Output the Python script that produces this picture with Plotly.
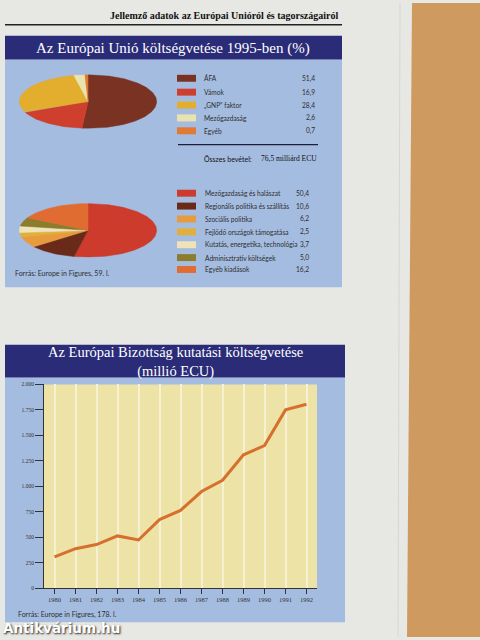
import numpy as np
import plotly.graph_objects as go

W, H = 480, 640

revenue_labels = ["ÁFA", "Vámok", "„GNP” faktor", "Mezőgazdaság", "Egyéb"]
revenue_values = [51.4, 16.9, 28.4, 2.6, 0.7]
revenue_colors = ["#7a3322", "#cf3f2e", "#e3ad2e", "#ebe3ae", "#e07a34"]

spending_labels = [
    "Mezőgazdaság és halászat",
    "Regionális politika és szállítás",
    "Szociális politika",
    "Fejlődő országok támogatása",
    "Kutatás, energetika, technológia",
    "Adminisztratív költségek",
    "Egyéb kiadások",
]
spending_values = [50.4, 10.6, 6.2, 2.5, 3.7, 5.0, 16.2]
spending_colors = ["#cc3b2c", "#6a2a1a", "#e89a3e", "#e2b03a", "#eee4b8", "#8c7c2c", "#e06c32"]

years = [1980, 1981, 1982, 1983, 1984, 1985, 1986, 1987, 1988, 1989, 1990, 1991, 1992]
research_budget = [310, 390, 430, 515, 475, 675, 765, 950, 1060, 1310, 1400, 1750, 1805]
y_ticks = [0, 250, 500, 750, 1000, 1250, 1500, 1750, 2000]
y_tick_labels = ["0", "250", "500", "750", "1.000", "1.250", "1.500", "1.750", "2.000"]

PANEL = "#a4bce0"
NAVY = "#2a2c78"
PAGE = "#e7e7e4"
TEXT = "#2e2e2e"
SMALL = dict(family="Lato", size=6.6, color=TEXT)


def px(x):
    return x / W


def py(y):
    return 1 - y / H


def hu(v):
    return f"{v:.1f}".replace(".", ",")


def pie_traces(values, colors, xa, ya):
    """Wedges on a unit circle; the axis scaling squashes them into an ellipse."""
    traces = []
    total = sum(values)
    start = 0.0
    for v, c in zip(values, colors):
        a0 = np.pi / 2 - 2 * np.pi * start / total
        a1 = np.pi / 2 - 2 * np.pi * (start + v) / total
        t = np.linspace(a0, a1, max(3, int(abs(a1 - a0) * 40)))
        xs = np.concatenate([[0], np.cos(t), [0]])
        ys = np.concatenate([[0], np.sin(t), [0]])
        traces.append(go.Scatter(
            x=xs, y=ys, mode="lines", fill="toself", fillcolor=c,
            line=dict(color=c, width=0.5), xaxis=xa, yaxis=ya,
            hoverinfo="skip", showlegend=False,
        ))
        start += v
    return traces


fig = go.Figure()
for tr in pie_traces(revenue_values, revenue_colors, "x", "y"):
    fig.add_trace(tr)
for tr in pie_traces(spending_values, spending_colors, "x2", "y2"):
    fig.add_trace(tr)

fig.add_trace(go.Scatter(
    x=years, y=research_budget, mode="lines",
    line=dict(color="#d6702e", width=3), xaxis="x3", yaxis="y3",
    hoverinfo="skip", showlegend=False,
))

hidden = dict(visible=False, range=[-1.02, 1.02], fixedrange=True)

shapes = [
    # wooden table on the right
    dict(type="path", xref="paper", yref="paper",
         path=f"M {px(412)} 1 L 1 1 L 1 0 L {px(407)} 0 Z",
         fillcolor="#cf9a60", line=dict(width=0), layer="below"),
    dict(type="line", xref="paper", yref="paper", x0=px(400), x1=px(398), y0=1, y1=0,
         line=dict(color="#d6d6d2", width=1), layer="below"),
    # header rule
    dict(type="line", xref="paper", yref="paper", x0=px(5), x1=px(342), y0=py(22), y1=py(22),
         line=dict(color="#222", width=1.5)),
    # panel 1
    dict(type="rect", xref="paper", yref="paper", x0=px(5), x1=px(342), y0=py(57), y1=py(287),
         fillcolor=PANEL, line=dict(width=0), layer="below"),
    dict(type="rect", xref="paper", yref="paper", x0=px(5), x1=px(342), y0=py(33), y1=py(57),
         fillcolor=NAVY, line=dict(width=0), layer="below"),
    # total separator
    dict(type="line", xref="paper", yref="paper", x0=px(178), x1=px(318), y0=py(143), y1=py(143),
         line=dict(color="#1e1e3a", width=1.2)),
    # panel 2
    dict(type="rect", xref="paper", yref="paper", x0=px(5), x1=px(345), y0=py(378), y1=py(625),
         fillcolor=PANEL, line=dict(width=0), layer="below"),
    dict(type="rect", xref="paper", yref="paper", x0=px(5), x1=px(345), y0=py(345), y1=py(378),
         fillcolor=NAVY, line=dict(width=0), layer="below"),
    # yellow plot area
    dict(type="rect", xref="x3 domain", yref="y3 domain", x0=0, x1=1, y0=0, y1=1,
         fillcolor="#eee3a6", line=dict(width=0), layer="below"),
]

annotations = [
    dict(text="<b>Jellemző adatok az Európai Unióról és tagországairól</b>", x=px(341), y=py(13),
         xanchor="right", font=dict(family="Liberation Serif", size=10, color="#111")),
    dict(text="Az Európai Unió költségvetése 1995-ben (%)", x=px(173), y=py(46),
         font=dict(family="Liberation Serif", size=15, color="white")),
    dict(text="Az Európai Bizottság kutatási költségvetése<br>(millió ECU)", x=px(175), y=py(362),
         font=dict(family="Liberation Serif", size=14.5, color="white")),
    dict(text="Összes bevétel:", x=px(202), y=py(157), xanchor="left",
         font=dict(family="Lato", size=7, color="#111")),
    dict(text="76,5 milliárd ECU", x=px(259), y=py(157), xanchor="left",
         font=dict(family="Liberation Serif", size=7.5, color="#111")),
    dict(text="Forrás: Europe in Figures, 59. l.", x=px(13), y=py(273), xanchor="left",
         font=dict(family="Lato", size=7, color=TEXT)),
    dict(text="Forrás: Europe in Figures, 178. l.", x=px(16), y=py(617), xanchor="left",
         font=dict(family="Lato", size=7, color=TEXT)),
    dict(text="<b>Antikvárium.hu</b>", x=px(1), y=py(631), xanchor="left",
         font=dict(family="DejaVu Sans", size=13.5, color="white", shadow="1px 1px 2px #222")),
]

rev_rows = [76, 90, 103, 116, 129]
for i, (lab, val, col) in enumerate(zip(revenue_labels, revenue_values, revenue_colors)):
    yc = rev_rows[i]
    shapes.append(dict(type="rect", xref="paper", yref="paper", x0=px(177), x1=px(196),
                       y0=py(yc - 3.5), y1=py(yc + 3.5), fillcolor=col, line=dict(width=0)))
    annotations.append(dict(text=lab, x=px(202), y=py(yc), xanchor="left", font=SMALL))
    annotations.append(dict(text=hu(val), x=px(317), y=py(yc), xanchor="right", font=SMALL))

sp_rows = [192, 205, 218, 231, 244, 257, 269]
for i, (lab, val, col) in enumerate(zip(spending_labels, spending_values, spending_colors)):
    yc = sp_rows[i]
    shapes.append(dict(type="rect", xref="paper", yref="paper", x0=px(177), x1=px(196),
                       y0=py(yc - 3.5), y1=py(yc + 3.5), fillcolor=col, line=dict(width=0)))
    annotations.append(dict(text=lab, x=px(203), y=py(yc), xanchor="left", font=SMALL))
    annotations.append(dict(text=hu(val), x=px(311), y=py(yc), xanchor="right", font=SMALL))

for a in annotations:
    a.update(xref="paper", yref="paper", showarrow=False)
    a.setdefault("yanchor", "middle")

fig.update_layout(
    width=W, height=H, autosize=False,
    margin=dict(l=0, r=0, t=0, b=0),
    paper_bgcolor=PAGE, plot_bgcolor="rgba(0,0,0,0)",
    showlegend=False,
    xaxis=dict(domain=[px(18), px(158)], anchor="y", **hidden),
    yaxis=dict(domain=[py(127), py(72)], anchor="x", **hidden),
    xaxis2=dict(domain=[px(18), px(158)], anchor="y2", **hidden),
    yaxis2=dict(domain=[py(257), py(202)], anchor="x2", **hidden),
    xaxis3=dict(
        domain=[px(44), px(317)], anchor="y3", range=[1979.5, 1992.5],
        tickvals=years, ticktext=[str(y) for y in years],
        showgrid=True, gridcolor="#f7f1d4", gridwidth=1.5,
        showline=True, linecolor="#333", linewidth=1,
        ticks="outside", ticklen=5, tickcolor="#333",
        tickfont=dict(family="Liberation Serif", size=6.5, color="#333"),
        zeroline=False, fixedrange=True,
    ),
    yaxis3=dict(
        domain=[py(591), py(385)], anchor="x3", range=[0, 2000],
        tickvals=y_ticks, ticktext=y_tick_labels,
        showgrid=False, showline=True, linecolor="#333", linewidth=1,
        ticks="outside", ticklen=8, tickcolor="#333",
        tickfont=dict(family="Liberation Serif", size=5.5, color="#333"),
        zeroline=False, fixedrange=True,
    ),
    shapes=shapes,
    annotations=annotations,
)

# the page's default body margin would shift the 480x640 figure out of the window
fig.write_html(
    "out.html",
    config={"displayModeBar": False},
    post_script="document.body.style.margin = '0';",
)
